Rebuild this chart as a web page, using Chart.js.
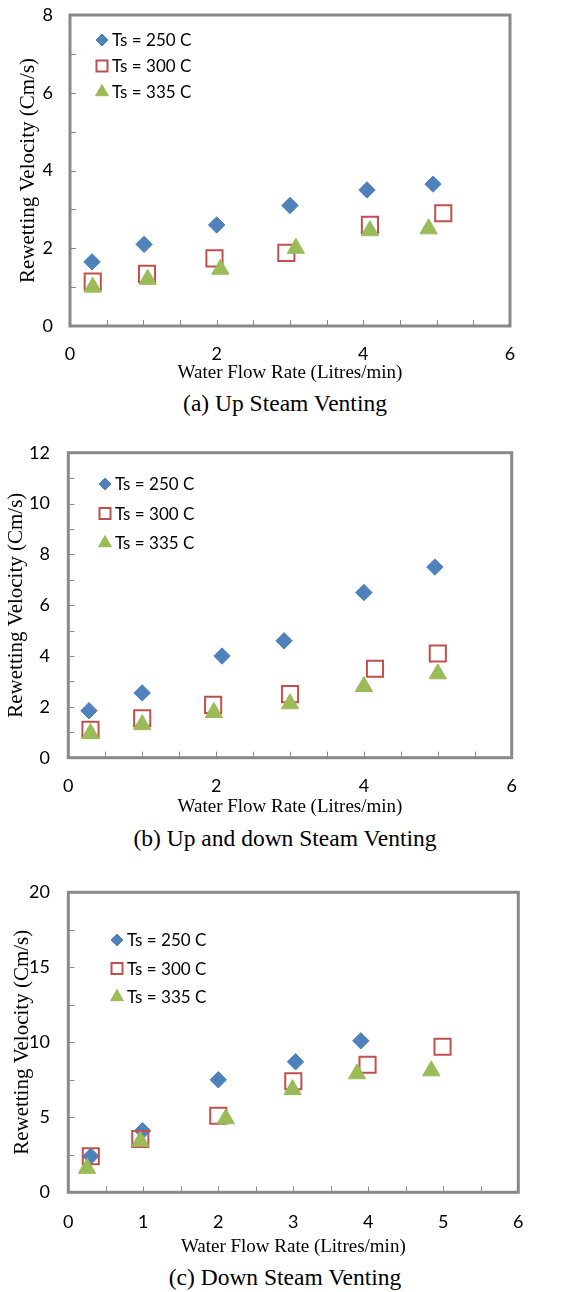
<!DOCTYPE html>
<html>
<head>
<meta charset="utf-8">
<script src="https://cdn.jsdelivr.net/npm/chart.js@4/dist/chart.umd.min.js"></script>
<style>
  body { margin: 0; background: #fff; }
  #wrap { position: relative; width: 578px; height: 1292px; }
  canvas { position: absolute; left: 0; }
  .cap { position: absolute; left: 0; width: 570px; text-align: center;
         font-family: "Liberation Serif", serif; font-size: 23.5px; line-height: 26px; color: #000; }
</style>
</head>
<body>
<div id="wrap">
  <canvas id="chartA" width="578" height="385" style="top:0px"></canvas>
  <div class="cap" style="top:390px">(a) Up Steam Venting</div>
  <canvas id="chartB" width="578" height="390" style="top:430px"></canvas>
  <div class="cap" style="top:825px">(b) Up and down Steam Venting</div>
  <canvas id="chartC" width="578" height="400" style="top:860px"></canvas>
  <div class="cap" style="top:1264px">(c) Down Steam Venting</div>
</div>
<script>
// series labels
const SERIES = ["Ts = 250 C", "Ts = 300 C", "Ts = 335 C"];

// (a) Up Steam Venting
const xA250 = [0.30, 1.01, 2.00, 3.00, 4.05, 4.95];
const yA250 = [1.65, 2.10, 2.60, 3.10, 3.50, 3.65];
const xA300 = [0.31, 1.05, 1.97, 2.95, 4.09, 5.09];
const yA300 = [1.14, 1.34, 1.74, 1.88, 2.60, 2.90];
const xA335 = [0.31, 1.06, 2.05, 3.08, 4.09, 4.89];
const yA335 = [1.00, 1.20, 1.46, 2.00, 2.45, 2.50];
const xTicksA = [0, 2, 4, 6];
const yTicksA = [0, 2, 4, 6, 8];

// (b) Up and down Steam Venting
const xB250 = [0.28, 1.00, 2.08, 2.92, 4.00, 4.96];
const yB250 = [1.85, 2.55, 4.00, 4.60, 6.50, 7.50];
const xB300 = [0.30, 1.00, 1.96, 3.00, 4.15, 5.00];
const yB300 = [1.10, 1.55, 2.08, 2.50, 3.50, 4.10];
const xB335 = [0.30, 1.00, 1.97, 3.00, 4.00, 5.00];
const yB335 = [0.95, 1.30, 1.78, 2.12, 2.80, 3.30];
const xTicksB = [0, 2, 4, 6];
const yTicksB = [0, 2, 4, 6, 8, 10, 12];

// (c) Down Steam Venting
const xC250 = [0.30, 0.99, 2.00, 3.03, 3.90];
const yC250 = [2.40, 4.10, 7.50, 8.70, 10.10];
const xC300 = [0.30, 0.96, 2.00, 3.00, 3.99, 4.99];
const yC300 = [2.40, 3.55, 5.10, 7.40, 8.50, 9.70];
const xC335 = [0.25, 0.96, 2.10, 2.99, 3.85, 4.84];
const yC335 = [1.60, 3.40, 4.90, 6.85, 7.90, 8.10];
const xTicksC = [0, 1, 2, 3, 4, 5, 6];
const yTicksC = [0, 5, 10, 15, 20];

const X_TITLE = "Water Flow Rate (Litres/min)";
const Y_TITLE = "Rewetting Velocity (Cm/s)";

// marker styles per series
const STYLES = [
    { pointStyle: 'rectRot', pointRadius: 8.2, pointBackgroundColor: '#4F81BD', pointBorderColor: '#4F81BD', pointBorderWidth: 1, legendRadius: 6, order: 3 },
    { pointStyle: 'rect', pointRadius: 11.4, pointBackgroundColor: 'rgba(0,0,0,0)', pointBorderColor: '#C0504D', pointBorderWidth: 2, legendRadius: 7.8, order: 2 },
    { pointStyle: 'triangle', pointRadius: 10, pointBackgroundColor: '#9BBB59', pointBorderColor: '#9BBB59', pointBorderWidth: 1, legendRadius: 7.4, order: 1 }
];

function toPoints(xs, ys) {
    return xs.map((x, i) => ({ x: x, y: ys[i] }));
}

// gray box round the plot area and small inward ticks
const framePlugin = {
    id: 'frame',
    beforeDatasetsDraw(chart) {
        const { ctx, chartArea: a, scales } = chart;
        ctx.save();
        ctx.strokeStyle = '#898989';
        ctx.lineWidth = 1;
        ctx.beginPath();
        scales.x.ticks.forEach(t => {
            const px = Math.round(scales.x.getPixelForValue(t.value)) + 0.5;
            ctx.moveTo(px, a.bottom);
            ctx.lineTo(px, a.bottom - 6);
        });
        scales.y.ticks.forEach(t => {
            const py = Math.round(scales.y.getPixelForValue(t.value)) + 0.5;
            ctx.moveTo(a.left, py);
            ctx.lineTo(a.left + 6, py);
        });
        ctx.stroke();
        ctx.lineWidth = 3;
        ctx.strokeRect(a.left, a.top, a.right - a.left, a.bottom - a.top);
        ctx.restore();
    }
};

// legend drawn inside the plot area
const innerLegend = {
    id: 'innerLegend',
    afterDraw(chart, args, opts) {
        const { ctx, chartArea: a } = chart;
        ctx.save();
        ctx.font = '17px Lato';
        ctx.textBaseline = 'middle';
        chart.data.datasets.forEach((ds, i) => {
            const cx = a.left + opts.dx;
            const cy = a.top + opts.dy + i * opts.gap;
            ctx.fillStyle = ds.pointBackgroundColor;
            ctx.strokeStyle = ds.pointBorderColor;
            ctx.lineWidth = ds.pointBorderWidth;
            Chart.helpers.drawPoint(ctx, {
                pointStyle: ds.pointStyle, radius: ds.legendRadius, rotation: 0, borderWidth: ds.pointBorderWidth
            }, cx, cy);
            ctx.fillStyle = '#000';
            ctx.fillText(ds.label, cx + 10, cy + 1);
        });
        ctx.restore();
    }
};

function getConfig(series, box, axes) {
    const datasets = series.map((s, i) => Object.assign({
        label: SERIES[i],
        data: toPoints(s[0], s[1]),
        showLine: false
    }, STYLES[i]));

    return {
        type: 'scatter',
        data: { datasets: datasets },
        options: {
            responsive: false,
            animation: false,
            events: [],
            layout: { padding: { left: 0, top: box.top, right: box.width - box.right, bottom: 0 } },
            scales: {
                x: {
                    type: 'linear', min: 0, max: axes.xMax,
                    afterFit: scale => {
                        scale.height = box.height - box.bottom;
                        scale.paddingLeft = 0;
                        scale.paddingRight = 0;
                    },
                    grid: { display: false, drawTicks: false },
                    border: { display: false },
                    ticks: {
                        stepSize: 0.5, autoSkip: false, maxRotation: 0,
                        padding: axes.xTickPad, color: '#000',
                        font: { family: 'Lato', size: 18 },
                        callback: v => axes.xLabels.includes(v) ? String(v) : ''
                    },
                    title: {
                        display: true, text: X_TITLE, color: '#000',
                        font: { family: 'Liberation Serif', size: 19 },
                        padding: { top: 0, bottom: axes.xTitlePad }
                    }
                },
                y: {
                    type: 'linear', min: 0, max: axes.yMax,
                    afterFit: scale => {
                        scale.width = box.left;
                        scale.paddingTop = 0;
                        scale.paddingBottom = 0;
                    },
                    grid: { display: false, drawTicks: false },
                    border: { display: false },
                    ticks: {
                        stepSize: axes.yStep, autoSkip: false,
                        padding: axes.yTickPad, color: '#000',
                        font: { family: 'Lato', size: 18 },
                        callback: v => axes.yLabels.includes(v) ? String(v) : ''
                    },
                    title: {
                        display: true, text: Y_TITLE, color: '#000',
                        font: { family: 'Liberation Serif', size: 21 },
                        padding: { top: axes.yTitlePad, bottom: 0 }
                    }
                }
            },
            plugins: {
                legend: { display: false },
                tooltip: { enabled: false },
                innerLegend: axes.legend
            }
        },
        plugins: [framePlugin, innerLegend]
    };
}

new Chart(document.getElementById('chartA'), getConfig(
    [[xA250, yA250], [xA300, yA300], [xA335, yA335]],
    { width: 578, height: 385, left: 70, right: 510, top: 15, bottom: 326 },
    { xMax: 6, yMax: 8, yStep: 1, xLabels: xTicksA, yLabels: yTicksA,
      xTickPad: 17, yTickPad: 17, xTitlePad: 0.6, yTitlePad: 15.4,
      legend: { dx: 32, dy: 25, gap: 26 } }
));

new Chart(document.getElementById('chartB'), getConfig(
    [[xB250, yB250], [xB300, yB300], [xB335, yB335]],
    { width: 578, height: 390, left: 68.3, right: 511.7, top: 22.7, bottom: 327.7 },
    { xMax: 6, yMax: 12, yStep: 1, xLabels: xTicksB, yLabels: yTicksB,
      xTickPad: 17.5, yTickPad: 18.3, xTitlePad: 1.6, yTitlePad: 4.1,
      legend: { dx: 36.7, dy: 31.3, gap: 29.5 } }
));

new Chart(document.getElementById('chartC'), getConfig(
    [[xC250, yC250], [xC300, yC300], [xC335, yC335]],
    { width: 578, height: 400, left: 68.3, right: 518.3, top: 32.3, bottom: 332.3 },
    { xMax: 6, yMax: 20, yStep: 2.5, xLabels: xTicksC, yLabels: yTicksC,
      xTickPad: 18.6, yTickPad: 18.3, xTitlePad: 1.9, yTitlePad: 10,
      legend: { dx: 48.7, dy: 47.7, gap: 28.5 } }
));
</script>
</body>
</html>
